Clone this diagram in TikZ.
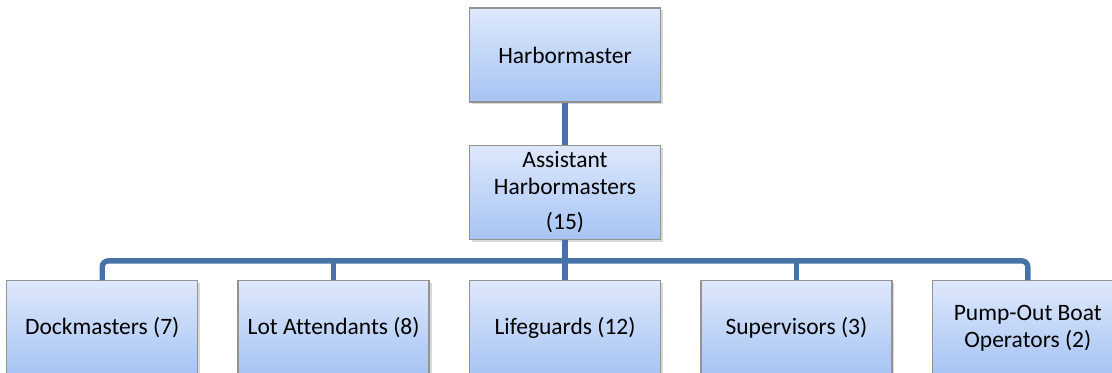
\documentclass[tikz,border=0pt]{standalone}
\usepackage{fontspec}
\setmainfont{Carlito}[Ligatures=NoCommon]
\usetikzlibrary{positioning,calc,shadows}
\definecolor{boxtop}{RGB}{222,232,252}
\definecolor{boxbot}{RGB}{166,196,243}
\definecolor{linkblue}{RGB}{70,114,168}

\begin{document}
\begin{tikzpicture}[
    post/.style={draw=gray!85, line width=0.7pt,
                 top color=boxtop, bottom color=boxbot,
                 font=\fontsize{11.75}{13.5}\selectfont, align=center,
                 minimum width=95.5pt, minimum height=47pt, inner sep=2pt,
                 drop shadow={opacity=0.3, shadow xshift=1.2pt, shadow yshift=-1.2pt}},
    link/.style={linkblue, line width=2.7pt}
  ]
    \useasboundingbox (0,0) rectangle (556pt,-186.5pt);

    \node[post] (hm)   at (282.5pt,-27.5pt)       {Harbormaster};
    \node[post] (asst) [below=21pt of hm]         {Assistant\\Harbormasters\\[4pt](15)};
    \node[post] (life) [below=20pt of asst]       {Lifeguards (12)};
    \node[post] (lot)  [left=19.5pt of life]      {Lot Attendants (8)};
    \node[post] (dock) [left=19.5pt of lot]       {Dockmasters (7)};
    \node[post] (sup)  [right=19.5pt of life]     {Supervisors (3)};
    \node[post] (pump) [right=19.5pt of sup]      {Pump-Out Boat\\Operators (2)};
    \coordinate (bus) at ($(asst.south)!0.52!(life.north)$);

    \draw[link] (hm)   -- (asst);
    \draw[link] (asst.south) -- (life.north);
    \draw[link, rounded corners=3pt] (dock.north) |- (bus) -| (pump.north);
    \draw[link] (lot.north) -- (lot.north |- bus);
    \draw[link] (sup.north) -- (sup.north |- bus);
\end{tikzpicture}
\end{document}
